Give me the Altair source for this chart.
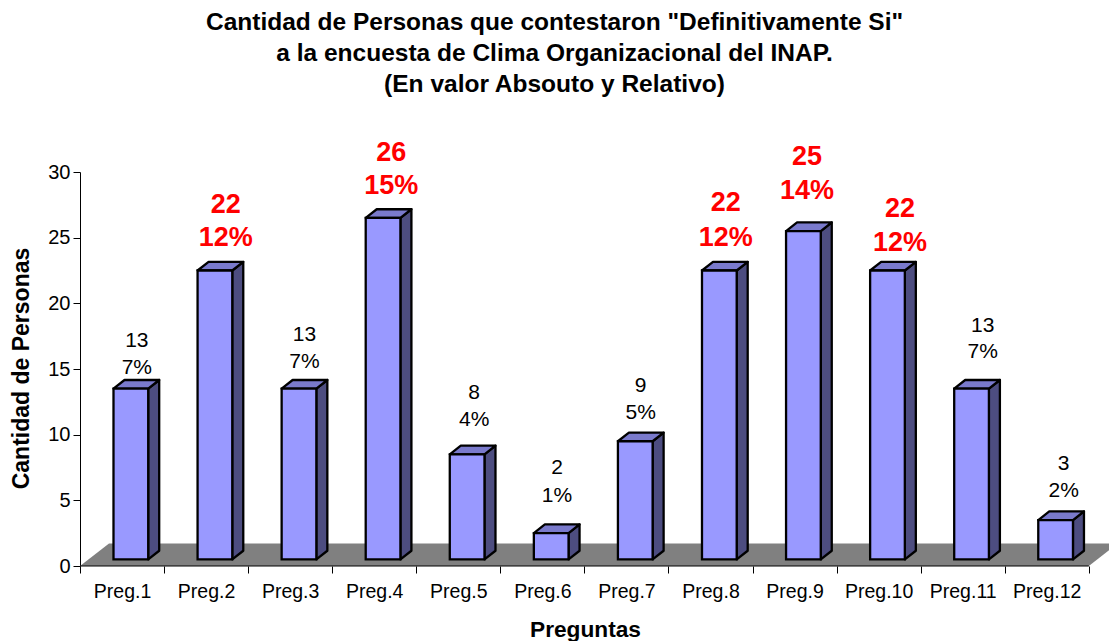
import altair as alt
import pandas as pd

categories = ["Preg.%d" % i for i in range(1, 13)]
absolute = [13, 22, 13, 26, 8, 2, 9, 22, 25, 22, 13, 3]
percent = [7, 12, 7, 15, 4, 1, 5, 12, 14, 12, 7, 2]
highlighted = [False, True, False, True, False, False, False, True, True, True, False, False]

# annotation placement (pixels from its top-left corner)
label_x_px = [137.3, 226.3, 305, 391.8, 474.7, 557.5, 641.2, 726.3, 807.5, 900.5, 983.2, 1064.2]
abs_y_px = [340, 204, 334, 152.3, 392.7, 467.7, 385, 202, 156, 208, 325, 463.3]
pct_y_px = [367.7, 237.7, 361.7, 185.7, 419.3, 495.7, 412.3, 237.3, 190, 242.7, 351.7, 490.7]

W, H = 1037, 394
ORIGIN_X, ORIGIN_Y = 80.5, 566.5
CAT_PX = 84.07
UNIT_PX = H / 30
X_MAX = W / CAT_PX
dx_u, dy_u = 11 / CAT_PX, 8.7 / UNIT_PX
base = 0.5
left, right = 33.5 / CAT_PX, 68.2 / CAT_PX
floor_dx, floor_dy = 29 / CAT_PX, 22.5 / UNIT_PX

front, side, top, labels = [], [], [], []
for i, (c, v) in enumerate(zip(categories, absolute)):
    xl, xr = i + left, i + right
    t = v + base
    front.append(dict(c=c, x=xl, x2=xr, y=base, y2=t))
    side += [dict(c=c, x=xr, y=base, y2=t), dict(c=c, x=xr + dx_u, y=base + dy_u, y2=t + dy_u)]
    top += [dict(c=c, x=xl, y=t, y2=t), dict(c=c, x=xl + dx_u, y=t + dy_u, y2=t),
            dict(c=c, x=xr, y=t + dy_u, y2=t), dict(c=c, x=xr + dx_u, y=t + dy_u, y2=t + dy_u)]
    cx = (label_x_px[i] - ORIGIN_X) / CAT_PX
    labels.append(dict(x=cx, y=(ORIGIN_Y - abs_y_px[i] - 1) / UNIT_PX, text=str(v), hi=highlighted[i]))
    labels.append(dict(x=cx, y=(ORIGIN_Y - pct_y_px[i] - 1) / UNIT_PX, text=f"{percent[i]}%", hi=highlighted[i]))

floor = pd.DataFrame([
    dict(x=0, y=0, y2=0), dict(x=floor_dx, y=floor_dy, y2=0),
    dict(x=12, y=floor_dy, y2=0), dict(x=12 + floor_dx, y=floor_dy, y2=floor_dy),
])
labels = pd.DataFrame(labels)

FONT = "Liberation Sans"
xs = alt.Scale(domain=[0, X_MAX], nice=False, zero=False)
ys = alt.Scale(domain=[0, 30], nice=False)
xenc = alt.X("x:Q", scale=xs, axis=alt.Axis(
    values=list(range(13)), domain=False, grid=False, tickColor="black", tickSize=7,
    labelExpr="datum.value < 12 ? 'Preg.' + (datum.value + 1) : ''", labelOffset=42,
    labelFont=FONT, labelFontSize=19.5, labelColor="black", labelPadding=9, labelOverlap=False,
    labelFlush=False, labelAngle=0,
    title="Preguntas", titleFont=FONT, titleFontSize=22.7, titleFontWeight="bold", titleColor="black",
    titleX=505, titleY=63, titleAlign="center", titleBaseline="middle"))
yenc = alt.Y("y:Q", scale=ys, axis=alt.Axis(
    values=list(range(0, 31, 5)), grid=False, domainColor="black", tickColor="black", tickSize=7,
    labelFont=FONT, labelFontSize=20, labelColor="black", labelPadding=3,
    title="Cantidad de Personas", titleFont=FONT, titleFontSize=23, titleFontWeight="bold", titleColor="black",
    titleX=-59, titleY=196, titleAlign="center", titleBaseline="middle"))

floor_l = alt.Chart(floor).mark_area(color="#808080").encode(x=xenc, y=yenc, y2="y2:Q")
xaxis_l = alt.Chart(pd.DataFrame({"x": [0, 12], "y": [0, 0]})).mark_line(color="black", strokeWidth=1).encode(x=xenc, y=yenc)
side_l = alt.Chart(pd.DataFrame(side)).mark_area(fill="#4D4D80", stroke="black", strokeWidth=2.3, strokeJoin="round").encode(
    x=xenc, y=yenc, y2="y2:Q", detail="c:N")
top_l = alt.Chart(pd.DataFrame(top)).mark_area(fill="#7A7ACC", stroke="black", strokeWidth=2.3, strokeJoin="round").encode(
    x=xenc, y=yenc, y2="y2:Q", detail="c:N")
front_l = alt.Chart(pd.DataFrame(front)).mark_rect(fill="#9999FF", stroke="black", strokeWidth=2.3).encode(
    x=xenc, x2="x2:Q", y=yenc, y2="y2:Q")
txt_n = alt.Chart(labels[~labels.hi]).mark_text(font=FONT, fontSize=21, color="black", baseline="middle").encode(
    x=xenc, y=yenc, text="text:N")
txt_h = alt.Chart(labels[labels.hi]).mark_text(font=FONT, fontSize=27, fontWeight="bold", color="#FF0000", baseline="middle").encode(
    x=xenc, y=yenc, text="text:N")

chart = alt.layer(floor_l, xaxis_l, side_l, top_l, front_l, txt_n, txt_h).properties(
    width=W, height=H,
    padding={"left": 72, "top": 164, "right": -8, "bottom": 75},
    autosize=alt.AutoSizeParams(type="none"),
    title=alt.TitleParams(
        ['Cantidad de Personas que contestaron "Definitivamente Si"',
         "a la encuesta de Clima Organizacional del INAP.",
         "(En valor Absouto y Relativo)"],
        font=FONT, fontSize=24.5, fontWeight="bold", color="black", lineHeight=31,
        anchor="middle", dx=-44, offset=41),
).configure_view(stroke=None)

chart.save("out.html", embed_options={"renderer": "svg", "actions": False})
